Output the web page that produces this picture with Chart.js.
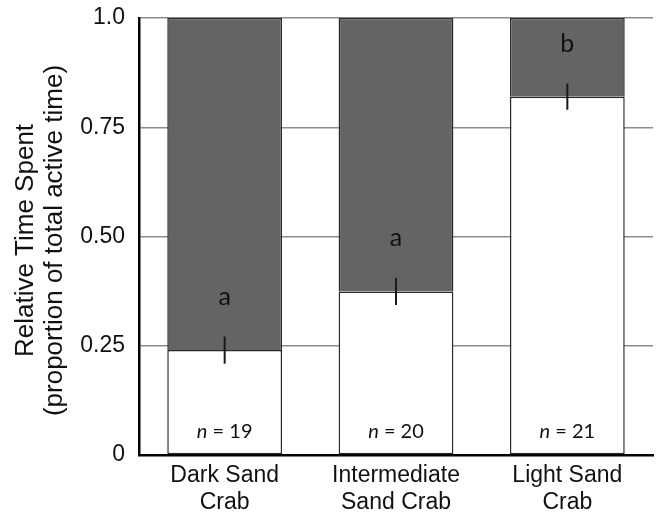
<!DOCTYPE html>
<html>
<head>
<meta charset="utf-8">
<script src="https://cdn.jsdelivr.net/npm/chart.js@4/dist/chart.umd.min.js"></script>
<style>
  html, body { margin: 0; padding: 0; background: #fff; }
</style>
</head>
<body>
<canvas id="crabChart" width="664" height="516"></canvas>
<script>
// data
const categories = [['Dark Sand', 'Crab'], ['Intermediate', 'Sand Crab'], ['Light Sand', 'Crab']];
const whiteShare = [0.24, 0.374, 0.82];   // lower (white) part of each bar
const greyShare = [0.76, 0.626, 0.18];    // upper (dark grey) part
const errors = [0.031, 0.031, 0.03];
const letters = ['a', 'a', 'b'];
const sampleSizes = [19, 20, 21];
const yTickLabels = ['0', '0.25', '0.50', '0.75', '1.0'];
const yTitle = ['Relative Time Spent', '(proportion of total active time)'];

// error bars, significance letters and n labels
const annotate = {
    id: 'annotate',
    afterDatasetsDraw(chart) {
        const ctx = chart.ctx;
        const y = chart.scales.y;
        const meta = chart.getDatasetMeta(0);
        ctx.save();
        meta.data.forEach((bar, i) => {
            const top = y.getPixelForValue(whiteShare[i] + errors[i]);
            const bottom = y.getPixelForValue(whiteShare[i] - errors[i]);
            ctx.strokeStyle = '#1a1a1a';
            ctx.lineWidth = 2;
            ctx.beginPath();
            ctx.moveTo(bar.x, top);
            ctx.lineTo(bar.x, bottom);
            ctx.stroke();

            ctx.fillStyle = '#111';
            ctx.textBaseline = 'alphabetic';
            ctx.textAlign = 'center';
            ctx.font = '25px Lato';
            ctx.fillText(letters[i], bar.x, top - 32);

            // "n = 19" with italic n
            const rest = ' = ' + sampleSizes[i];
            ctx.font = 'italic 20px Lato';
            const wN = ctx.measureText('n').width;
            ctx.font = '20px Lato';
            const wRest = ctx.measureText(rest).width;
            const start = bar.x - (wN + wRest) / 2;
            const base = y.bottom - 17;
            ctx.textAlign = 'left';
            ctx.font = 'italic 20px Lato';
            ctx.fillText('n', start, base);
            ctx.font = '20px Lato';
            ctx.fillText(rest, start + wN, base);
        });
        ctx.restore();
    },
    afterDraw(chart) {
        const ctx = chart.ctx;
        const area = chart.chartArea;
        const midY = (area.top + area.bottom) / 2 + 4;
        ctx.save();
        ctx.fillStyle = '#111';
        ctx.font = '26px "Liberation Sans", Arial, sans-serif';
        ctx.textAlign = 'center';
        ctx.textBaseline = 'alphabetic';
        [33, 62].forEach((x, k) => {
            ctx.save();
            ctx.translate(x, midY);
            ctx.rotate(-Math.PI / 2);
            ctx.fillText(yTitle[k], 0, 0);
            ctx.restore();
        });
        ctx.restore();
    }
};

const ctx = document.getElementById('crabChart').getContext('2d');
new Chart(ctx, {
    type: 'bar',
    data: {
        labels: categories,
        datasets: [{
            label: 'white',
            data: whiteShare,
            backgroundColor: '#ffffff',
            borderColor: '#2a2a2a',
            borderWidth: 1.5,
            borderSkipped: false,
        }, {
            label: 'grey',
            data: greyShare,
            backgroundColor: '#646464',
            borderColor: '#2a2a2a',
            borderWidth: 1.5,
            borderSkipped: 'bottom',
        }]
    },
    options: {
        responsive: false,
        animation: false,
        devicePixelRatio: 1,
        layout: { padding: { top: 18, right: 11, left: 0, bottom: 0 } },
        datasets: { bar: { categoryPercentage: 1, barPercentage: 0.67 } },
        plugins: {
            legend: { display: false },
            tooltip: { enabled: false },
        },
        scales: {
            x: {
                stacked: true,
                grid: { display: false, drawTicks: false },
                border: { display: true, color: '#000', width: 2.5 },
                ticks: {
                    color: '#111',
                    maxRotation: 0,
                    padding: 7,
                    font: { family: '"Liberation Sans", Arial, sans-serif', size: 23, lineHeight: 1.18 },
                },
                afterFit: (s) => { s.height = 61; s.paddingLeft = 0; s.paddingRight = 0; },
            },
            y: {
                stacked: true,
                min: 0,
                max: 1,
                grid: { color: '#8c8c8c', lineWidth: 1.5, drawTicks: false },
                border: { color: '#000', width: 2.5 },
                ticks: {
                    stepSize: 0.25,
                    padding: 14,
                    color: '#111',
                    font: { family: '"Liberation Sans", Arial, sans-serif', size: 23 },
                    callback: (v, i) => yTickLabels[i],
                },
                afterFit: (s) => { s.width = 139; s.paddingTop = 0; s.paddingBottom = 0; },
            }
        }
    },
    plugins: [annotate]
});
</script>
</body>
</html>
